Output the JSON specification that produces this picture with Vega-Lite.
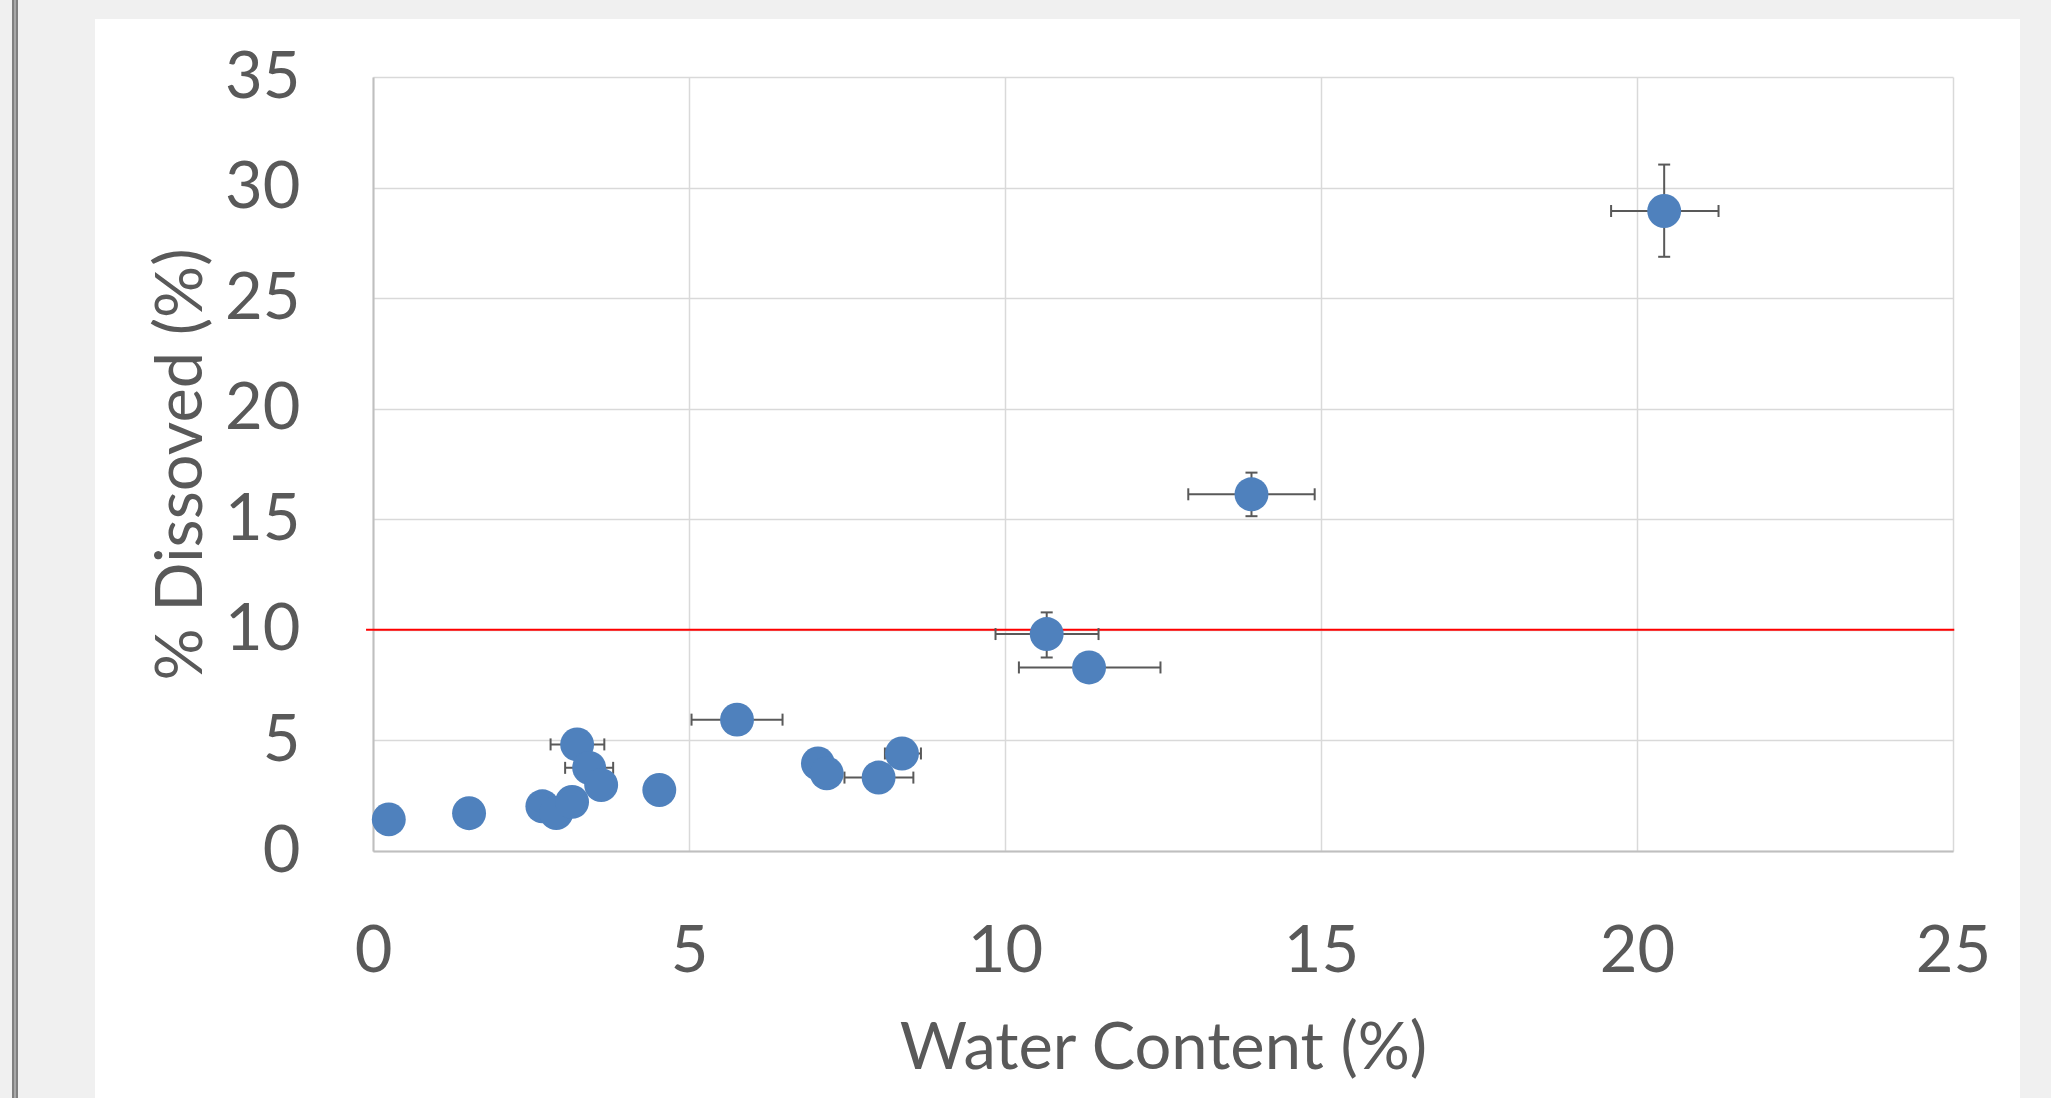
{
  "$schema": "https://vega.github.io/schema/vega-lite/v6.json",
  "width": 1580,
  "height": 774,
  "autosize": {"type": "none"},
  "padding": {"left": 373, "top": 77, "right": 98, "bottom": 247},
  "background": "white",
  "data": {
    "values": [
      {"w": 0.25, "d": 1.43},
      {"w": 1.52, "d": 1.71},
      {"w": 2.68, "d": 2.02},
      {"w": 2.90, "d": 1.72},
      {"w": 3.15, "d": 2.22},
      {"w": 3.23, "d": 4.82, "wlo": 2.81, "whi": 3.66},
      {"w": 3.42, "d": 3.76, "wlo": 3.04, "whi": 3.80},
      {"w": 3.61, "d": 2.98},
      {"w": 4.53, "d": 2.76},
      {"w": 5.76, "d": 5.94, "wlo": 5.04, "whi": 6.48},
      {"w": 7.04, "d": 3.96},
      {"w": 7.18, "d": 3.51},
      {"w": 8.00, "d": 3.32, "wlo": 7.46, "whi": 8.55},
      {"w": 8.37, "d": 4.41, "wlo": 8.10, "whi": 8.67},
      {"w": 10.66, "d": 9.81, "wlo": 9.85, "whi": 11.48, "dlo": 8.75, "dhi": 10.79},
      {"w": 11.33, "d": 8.30, "wlo": 10.22, "whi": 12.46},
      {"w": 13.90, "d": 16.13, "wlo": 12.90, "whi": 14.90, "dlo": 15.14, "dhi": 17.11},
      {"w": 20.43, "d": 28.94, "wlo": 19.59, "whi": 21.29, "dlo": 26.87, "dhi": 31.04}
    ]
  },
  "layer": [
    {
      "data": {"values": [{}]},
      "mark": {"type": "rect", "color": "#f0f0f0", "clip": false},
      "encoding": {
        "x": {"datum": -6.0, "type": "quantitative", "scale": {"domain": [0, 25], "nice": false}, "title": "Water Content (%)"},
        "x2": {"datum": -4.399},
        "y": {"datum": -11.3, "type": "quantitative", "scale": {"domain": [0, 35], "nice": false}, "title": "% Dissoved (%)"},
        "y2": {"datum": 38.6}
      }
    },
    {
      "data": {"values": [{}]},
      "mark": {"type": "rect", "color": "#808080", "clip": false},
      "encoding": {
        "x": {"datum": -5.712, "type": "quantitative", "title": "Water Content (%)"},
        "x2": {"datum": -5.6171},
        "y": {"datum": -11.3, "type": "quantitative", "title": "% Dissoved (%)"},
        "y2": {"datum": 38.6}
      }
    },
    {
      "data": {"values": [{}]},
      "mark": {"type": "rect", "color": "#a8a8a8", "clip": false},
      "encoding": {
        "x": {"datum": -5.6804, "type": "quantitative", "title": "Water Content (%)"},
        "x2": {"datum": -5.6487},
        "y": {"datum": -11.3, "type": "quantitative", "title": "% Dissoved (%)"},
        "y2": {"datum": 38.6}
      }
    },
    {
      "data": {"values": [{}]},
      "mark": {"type": "rect", "color": "#f0f0f0", "clip": false},
      "encoding": {
        "x": {"datum": -4.5, "type": "quantitative", "title": "Water Content (%)"},
        "x2": {"datum": 26.7},
        "y": {"datum": 37.62, "type": "quantitative", "title": "% Dissoved (%)"},
        "y2": {"datum": 38.6}
      }
    },
    {
      "data": {"values": [{}]},
      "mark": {"type": "rect", "color": "#f0f0f0", "clip": false},
      "encoding": {
        "x": {"datum": 26.06, "type": "quantitative", "title": "Water Content (%)"},
        "x2": {"datum": 26.7},
        "y": {"datum": -11.3, "type": "quantitative", "title": "% Dissoved (%)"},
        "y2": {"datum": 38.6}
      }
    },
    {
      "data": {"values": [{}]},
      "mark": {"type": "rule", "color": "#ff0000", "strokeWidth": 2, "clip": false},
      "encoding": {
        "x": {"datum": -0.11, "type": "quantitative", "title": "Water Content (%)"},
        "x2": {"datum": 25.02},
        "y": {"datum": 10, "type": "quantitative", "title": "% Dissoved (%)"}
      }
    },
    {
      "transform": [{"filter": "isValid(datum.wlo)"}],
      "mark": {"type": "rule", "color": "#595959", "strokeWidth": 2},
      "encoding": {
        "x": {"field": "wlo", "type": "quantitative", "title": "Water Content (%)"},
        "x2": {"field": "whi"},
        "y": {"field": "d", "type": "quantitative", "title": "% Dissoved (%)"}
      }
    },
    {
      "transform": [{"filter": "isValid(datum.dlo)"}],
      "mark": {"type": "rule", "color": "#595959", "strokeWidth": 2},
      "encoding": {
        "x": {"field": "w", "type": "quantitative", "title": "Water Content (%)"},
        "y": {"field": "dlo", "type": "quantitative", "title": "% Dissoved (%)"},
        "y2": {"field": "dhi"}
      }
    },
    {
      "transform": [{"filter": "isValid(datum.wlo)"}, {"fold": ["wlo", "whi"], "as": ["k", "cap"]}],
      "mark": {"type": "tick", "orient": "vertical", "color": "#595959", "size": 12, "thickness": 2, "opacity": 1},
      "encoding": {
        "x": {"field": "cap", "type": "quantitative", "title": "Water Content (%)"},
        "y": {"field": "d", "type": "quantitative", "title": "% Dissoved (%)"}
      }
    },
    {
      "transform": [{"filter": "isValid(datum.dlo)"}, {"fold": ["dlo", "dhi"], "as": ["k", "cap"]}],
      "mark": {"type": "tick", "orient": "horizontal", "color": "#595959", "size": 12, "thickness": 2, "opacity": 1},
      "encoding": {
        "x": {"field": "w", "type": "quantitative", "title": "Water Content (%)"},
        "y": {"field": "cap", "type": "quantitative", "title": "% Dissoved (%)"}
      }
    },
    {
      "mark": {"type": "point", "shape": "circle", "filled": true, "color": "#4f81bd", "size": 1150, "opacity": 1},
      "encoding": {
        "x": {
          "field": "w", "type": "quantitative", "title": "Water Content (%)",
          "axis": {"values": [0, 5, 10, 15, 20, 25], "format": "d", "labelPadding": 69, "titlePadding": 33, "labelFlush": false, "labelOverlap": false}
        },
        "y": {
          "field": "d", "type": "quantitative", "title": "% Dissoved (%)",
          "axis": {"values": [0, 5, 10, 15, 20, 25, 30, 35], "format": "d", "labelPadding": 73, "titlePadding": 9, "labelFlush": false, "labelOverlap": false}
        }
      }
    }
  ],
  "config": {
    "font": "Lato",
    "view": {"stroke": null},
    "axis": {
      "labelFont": "Lato",
      "labelFontSize": 65,
      "labelColor": "#595959",
      "titleFont": "Lato",
      "titleFontSize": 65,
      "titleFontWeight": "normal",
      "titleColor": "#595959",
      "ticks": false,
      "grid": true,
      "gridColor": "#d9d9d9",
      "gridWidth": 1.5,
      "domainColor": "#bfbfbf",
      "domainWidth": 2
    }
  }
}
